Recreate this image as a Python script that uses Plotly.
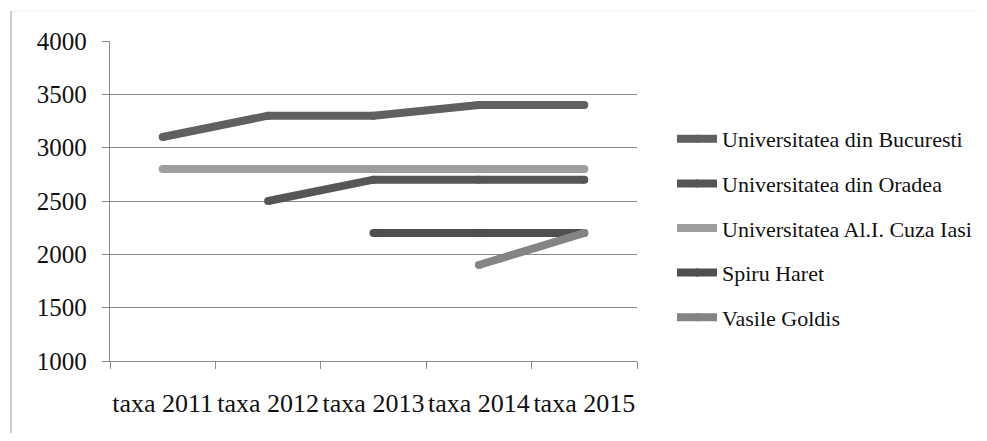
import plotly.graph_objects as go

categories = ["taxa 2011", "taxa 2012", "taxa 2013", "taxa 2014", "taxa 2015"]
bucuresti = [3100, 3300, 3300, 3400, 3400]
oradea = [None, 2500, 2700, 2700, 2700]
cuza = [2800, 2800, 2800, 2800, 2800]
spiru = [None, None, 2200, 2200, 2200]
goldis = [None, None, None, 1900, 2200]

series_names = [
    "Universitatea din Bucuresti",
    "Universitatea din Oradea",
    "Universitatea Al.I. Cuza Iasi",
    "Spiru Haret",
    "Vasile Goldis",
]
series_values = [bucuresti, oradea, cuza, spiru, goldis]
colors = ["#606060", "#565656", "#9e9e9e", "#4f4f4f", "#848484"]

# page body has an 8px default margin; figure coordinates = screen - 8
OFF = 8
W, H = 987 - 2 * OFF, 441 - 2 * OFF
L = 110 - OFF
T = 41 - OFF
R = W - (637 - OFF)
B = H - (361 - OFF)
pw, ph = W - L - R, H - T - B

def px_x(sx):
    return (sx - OFF - L) / pw

def px_y(sy):
    return (H - B - (sy - OFF)) / ph

fig = go.Figure()
for i, (name, vals, col) in enumerate(zip(series_names, series_values, colors)):
    fig.add_trace(go.Scatter(
        x=categories, y=vals, name=name, mode="lines+markers",
        line=dict(color=col, width=8),
        marker=dict(color=col, size=8, line=dict(width=0)),
        legendgroup=f"g{i}",
        connectgaps=False,
    ))

font_family = "Liberation Serif"

fig.update_layout(
    width=W, height=H,
    margin=dict(l=L, r=R, t=T, b=B, autoexpand=False),
    paper_bgcolor="white", plot_bgcolor="white",
    font=dict(family=font_family, color="#111111"),
    showlegend=True,
    legend=dict(
        x=px_x(672), xanchor="left",
        y=px_y(118), yanchor="top",
        font=dict(size=22, family=font_family, color="#111111"),
        tracegroupgap=13,
        itemwidth=40,
        bgcolor="rgba(0,0,0,0)",
    ),
    xaxis=dict(
        type="category",
        categoryorder="array", categoryarray=categories,
        range=[-0.5, 4.5],
        showgrid=False,
        showline=True, linecolor="#8a8a8a", linewidth=1.3,
        ticks="outside", tickson="boundaries", ticklen=7, tickcolor="#8a8a8a", tickwidth=1.3,
        tickfont=dict(size=26, family=font_family, color="#111111"),
        tickangle=0,
        ticklabelstandoff=19,
        automargin=False,
        zeroline=False,
        fixedrange=True,
    ),
    yaxis=dict(
        range=[1000, 4000],
        tickvals=[1000, 1500, 2000, 2500, 3000, 3500, 4000],
        showgrid=True, gridcolor="#8a8a8a", gridwidth=1.3,
        showline=True, linecolor="#8a8a8a", linewidth=1.3,
        ticks="outside", ticklen=7, tickcolor="#8a8a8a", tickwidth=1.3,
        tickfont=dict(size=25, family=font_family, color="#111111"),
        ticklabelstandoff=10,
        automargin=False,
        zeroline=False,
        fixedrange=True,
    ),
    shapes=[
        dict(type="line", xref="paper", yref="paper",
             x0=px_x(11), x1=px_x(11),
             y0=px_y(435), y1=px_y(11),
             line=dict(color="#9a9a9a", width=1)),
        dict(type="line", xref="paper", yref="paper",
             x0=px_x(11), x1=px_x(977),
             y0=px_y(11), y1=px_y(11),
             line=dict(color="#f0f0f0", width=1)),
    ],
)

fig.write_html("out.html")
